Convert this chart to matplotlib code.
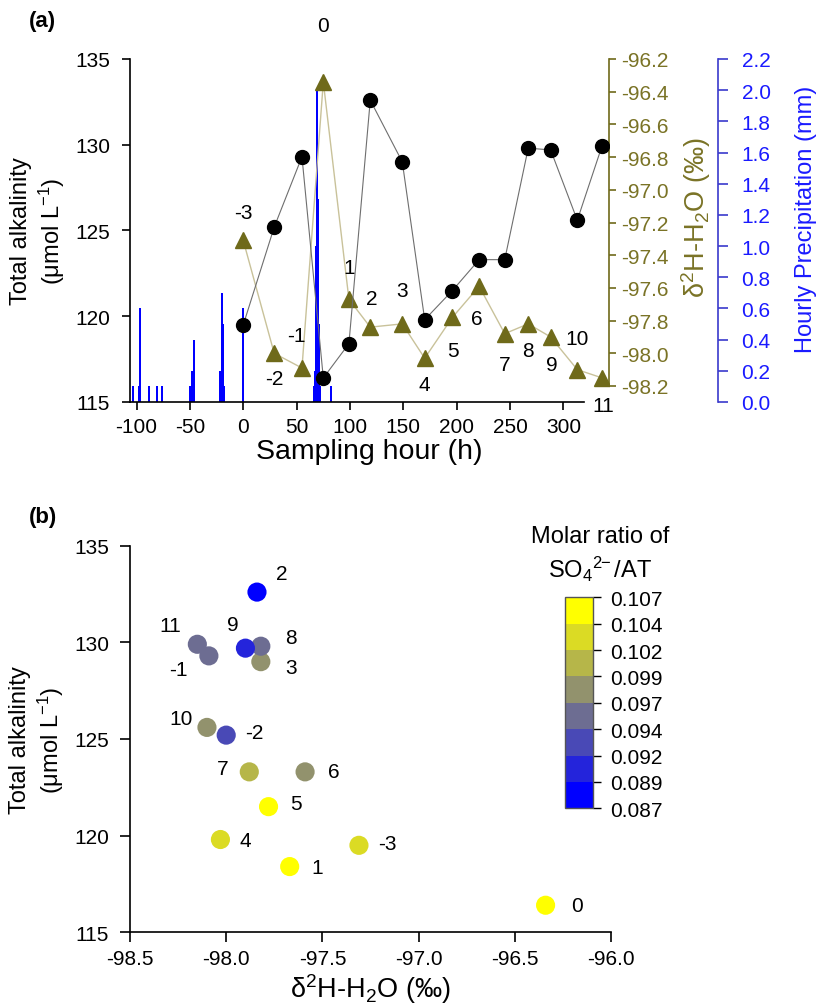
import numpy as np
import matplotlib.pyplot as plt
from matplotlib.colors import ListedColormap, BoundaryNorm

plt.rcParams['font.family'] = ['Liberation Sans', 'DejaVu Sans']
plt.rcParams['mathtext.fontset'] = 'custom'
plt.rcParams['mathtext.rm'] = 'Liberation Sans'
plt.rcParams['axes.linewidth'] = 1.2
plt.rcParams['axes.unicode_minus'] = False

# --- data ---
samples = [-3, -2, -1, 0, 1, 2, 3, 4, 5, 6, 7, 8, 9, 10, 11]
hours = [0, 29, 55, 75, 99, 119, 149, 170, 196, 221, 245, 267, 288, 313, 336]
ta = [119.5, 125.2, 129.3, 116.4, 118.4, 132.6, 129.0, 119.8, 121.5,
      123.3, 123.3, 129.8, 129.7, 125.6, 129.9]
d2h = [-97.31, -98.00, -98.09, -96.34, -97.67, -97.84, -97.82, -98.03, -97.78,
       -97.59, -97.88, -97.82, -97.90, -98.10, -98.15]
so4_at = [0.103, 0.093, 0.095, 0.106, 0.106, 0.088, 0.098, 0.103, 0.106,
          0.098, 0.100, 0.095, 0.090, 0.098, 0.095]

precip_hours = [-103, -98, -97, -88, -81, -76, -50, -48, -46, -22, -20, -19, -18,
                0, 66, 67, 68, 69, 70, 71, 72, 82]
precip_mm = [0.1, 0.1, 0.6, 0.1, 0.1, 0.1, 0.1, 0.2, 0.4, 0.2, 0.7, 0.5, 0.1,
             0.6, 0.1, 0.2, 1.0, 2.0, 1.3, 0.5, 0.1, 0.1]

ratio_bounds = [0.087, 0.089, 0.092, 0.094, 0.097, 0.099, 0.102, 0.104, 0.107]
ratio_labels = ["0.087", "0.089", "0.092", "0.094", "0.097", "0.099",
                "0.102", "0.104", "0.107"]

# label offsets (pixels) for panel a (triangles) and b (scatter)
off_a = [(0, 28), (0, -25), (-6, 33), (0, 56), (0, 32), (1, 29), (0, 33),
         (0, -26), (1, -33), (-2, -32), (0, -31), (0, -27), (1, -28), (0, 31), (1, -28)]
off_b = [(28, 2), (28, 3), (-31, -14), (31, 0), (27, -1), (25, 19), (30, -6),
         (25, -1), (27, 3), (29, 0), (-27, 3), (30, 9), (-13, 24), (-26, 9), (-27, 19)]

OLIVE = "#6f6a1a"
OLIVE_TXT = "#7a7326"
BLUE = "#0000ff"

W, H = 817, 1004
fig = plt.figure(figsize=(W / 100, H / 100), dpi=100)


def frac(x0, y0, x1, y1):
    return [x0 / W, 1 - y1 / H, (x1 - x0) / W, (y1 - y0) / H]


d2h_label = "δ$\\mathregular{^2}$H-H$\\mathregular{_2}$O (‰)"
ta_label = "Total alkalinity\n(μmol L$\\mathregular{^{-1}}$)"

# ---------------- panel (a) ----------------
ax = fig.add_axes(frac(129.5, 60, 609, 403))
ax2 = ax.twinx()
ax3 = ax.twinx()
ax3.set_zorder(0)
ax2.set_zorder(1)
ax.set_zorder(2)
ax.patch.set_visible(False)
ax2.patch.set_visible(False)

# precipitation bars
ax3.bar(precip_hours, precip_mm, width=1.6, color=BLUE, linewidth=0)
ax3.set_ylim(0, 2.2)
pt = np.arange(0, 2.21, 0.2)
ax3.set_yticks(pt)
ax3.set_yticklabels([f"{v:.1f}" for v in pt])
ax3.spines['right'].set_position(('axes', (718 - 129.5) / (609 - 129.5)))
for s in ['top', 'left', 'bottom']:
    ax3.spines[s].set_visible(False)
ax3.spines['right'].set_color("#3a3acc")
ax3.tick_params(axis='y', colors="#3a3acc", labelcolor="#1a1aff", labelsize=15,
                direction='out', length=7, width=1.2, pad=10)
ax3.set_ylabel("Hourly Precipitation (mm)", color="#1a1aff", fontsize=17)
ax3.yaxis.set_label_coords((795 - 129.5) / 479.5, 0.534)

# d2H triangles
ax2.plot(hours, d2h, color="#c9c29a", lw=1.0, zorder=1)
ax2.plot(hours, d2h, linestyle='none', marker='^', ms=12, color=OLIVE, zorder=2)
ax2.set_ylim(-96.2 - 2 * (403 - 60) / (387 - 60), -96.2)
dt = np.arange(-98.2, -96.19, 0.2)
ax2.set_yticks(dt)
ax2.set_yticklabels([f"{v:.1f}" for v in dt])
ax2.spines['right'].set_bounds(-98.2, -96.2)
ax2.spines['right'].set_color(OLIVE)
for s in ['top', 'left', 'bottom']:
    ax2.spines[s].set_visible(False)
ax2.tick_params(axis='y', colors=OLIVE, labelcolor=OLIVE_TXT, labelsize=15,
                direction='out', length=5, width=1.2)
ax2.set_ylabel(d2h_label, color=OLIVE_TXT, fontsize=19.5)
ax2.yaxis.set_label_coords((679 - 129.5) / 479.5, 0.539)
for s, x, y, (dx, dy) in zip(samples, hours, d2h, off_a):
    ax2.annotate(str(s), (x, y), xytext=(dx, dy), textcoords='offset pixels',
                 ha='center', va='center', fontsize=15)

# total alkalinity circles
ax.plot(hours, ta, color="#6e6e6e", lw=0.8, zorder=1)
ax.plot(hours, ta, linestyle='none', marker='o', ms=10, color='black', zorder=2)
ax.set_xlim(-106.6, 342.7)
ax.set_ylim(115, 135)
ax.set_xticks(np.arange(-100, 301, 50))
ax.set_yticks(np.arange(115, 136, 5))
ax.spines['bottom'].set_bounds(-106.6, 319)
ax.spines['top'].set_visible(False)
ax.spines['right'].set_visible(False)
ax.tick_params(labelsize=15, direction='out', length=6, width=1.2)
ax.tick_params(axis='y', pad=8)
ax.tick_params(axis='x', pad=5)
ax.set_xlabel("Sampling hour (h)", fontsize=20.5)
ax.xaxis.set_label_coords(0.5, -0.104)
ax.set_ylabel(ta_label, fontsize=17, labelpad=6)
fig.text(29 / W, 1 - 22 / H, "(a)", fontsize=16, fontweight='bold', va='center')

# ---------------- panel (b) ----------------
colors = ["#0000ff", "#2424db", "#4949b6", "#6d6d92", "#92926d", "#b6b649",
          "#dbdb24", "#ffff00"]
cmap = ListedColormap(colors)
norm = BoundaryNorm(ratio_bounds, cmap.N)

bx = fig.add_axes(frac(130, 546.7, 611, 933.3))
sc = bx.scatter(d2h, ta, c=so4_at, cmap=cmap, norm=norm, s=190, linewidths=0, zorder=2)
for s, x, y, (dx, dy) in zip(samples, d2h, ta, off_b):
    bx.annotate(str(s), (x, y), xytext=(dx, dy), textcoords='offset pixels',
                ha='center', va='center', fontsize=15)
bx.set_xlim(-98.5, -96.0)
bx.set_ylim(115, 135)
xt = np.arange(-98.5, -95.99, 0.5)
bx.set_xticks(xt)
bx.set_xticklabels([f"{v:.1f}" for v in xt])
bx.set_yticks(np.arange(115, 136, 5))
bx.spines['top'].set_visible(False)
bx.spines['right'].set_visible(False)
bx.tick_params(labelsize=15, direction='out', length=7, width=1.2)
bx.tick_params(axis='y', pad=8)
bx.tick_params(axis='x', pad=5)
bx.set_xlabel(d2h_label, fontsize=19.5)
bx.xaxis.set_label_coords(0.5, -0.1)
bx.set_ylabel(ta_label, fontsize=17, labelpad=6)
fig.text(29 / W, 1 - 518 / H, "(b)", fontsize=16, fontweight='bold', va='center')

cax = fig.add_axes(frac(565, 598.3, 593, 809.3))
cb = fig.colorbar(sc, cax=cax, boundaries=ratio_bounds, ticks=ratio_bounds,
                  spacing='uniform')
cb.ax.set_yticklabels(ratio_labels)
cb.ax.tick_params(labelsize=15, direction='out', length=6, width=1.0, pad=6)
cb.outline.set_edgecolor("#555555")
cb.outline.set_linewidth(1.0)
fig.text(600 / W, 1 - 555 / H,
         "Molar ratio of\nSO$\\mathregular{_4}$$\\mathregular{^{2}}$$\\mathregular{^{\\!\\!-}}$/AT",
         ha='center', va='center', fontsize=17, linespacing=1.3)

fig.savefig("out.png", dpi=100)
